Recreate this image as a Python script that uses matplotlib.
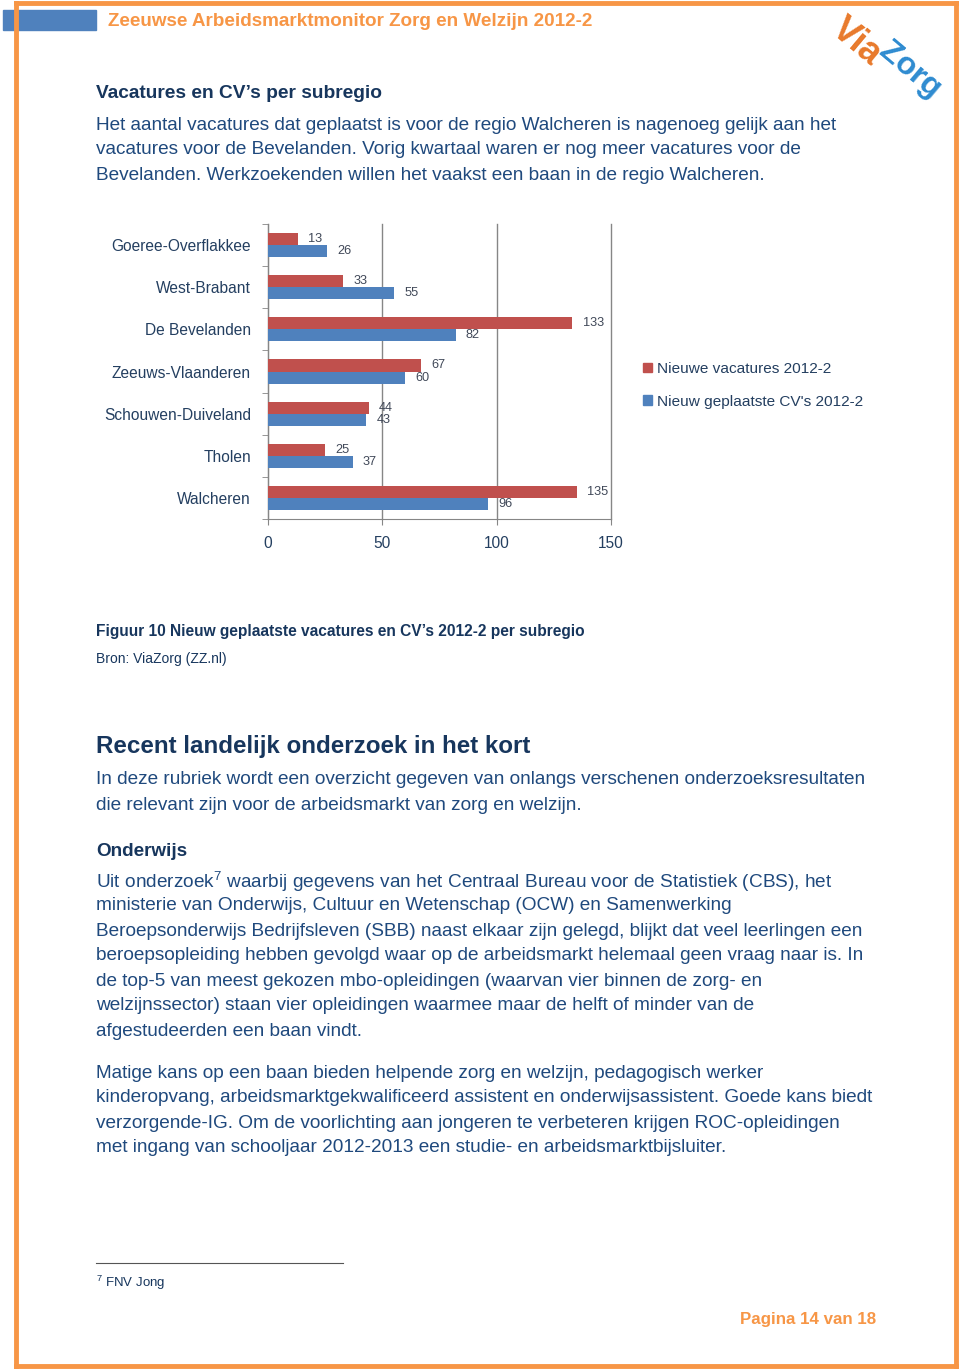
import numpy as np
import matplotlib
matplotlib.use("Agg")
import matplotlib.pyplot as plt
from matplotlib.patches import Rectangle, Patch
from matplotlib.lines import Line2D

plt.rcParams['font.family'] = ['Liberation Sans', 'DejaVu Sans']
plt.rcParams['mathtext.fontset'] = 'custom'
plt.rcParams['mathtext.rm'] = 'Liberation Sans'
plt.rcParams['mathtext.it'] = 'Liberation Sans'

# data
regions = ["Goeree-Overflakkee", "West-Brabant", "De Bevelanden", "Zeeuws-Vlaanderen",
           "Schouwen-Duiveland", "Tholen", "Walcheren"]
vacatures = [13, 33, 133, 67, 44, 25, 135]
cvs = [26, 55, 82, 60, 43, 37, 96]
series_names = ["Nieuwe vacatures 2012-2", "Nieuw geplaatste CV's 2012-2"]
x_ticks = [0, 50, 100, 150]

W, H = 960, 1370
ORANGE = '#F79646'
RED = '#C0504D'
BLUE = '#4F81BD'
HEAD = '#17365D'
BODY = '#1F497D'
GRID = '#868686'
LABEL = '#243F60'

fig = plt.figure(figsize=(W / 100, H / 100), dpi=100)


def fx(x):
    return x / W


def fy(y):
    return 1 - y / H


def txt(x, y, s, size=13.7, color=BODY, weight='normal', ha='left'):
    fig.text(fx(x), fy(y), s, fontsize=size, color=color, weight=weight,
             ha=ha, va='center_baseline')


# page frame and header
fig.patches.append(Rectangle((fx(3), fy(30)), fx(93), 20 / H, transform=fig.transFigure,
                             color=BLUE, zorder=1))
for xs, ys in [((16, 16), (3, 1366)), ((16, 956), (3, 3)), ((956, 956), (3, 1366)),
               ((16, 956), (1366, 1366))]:
    fig.lines.append(Line2D([fx(v) for v in xs], [fy(v) for v in ys], transform=fig.transFigure,
                            color=ORANGE, lw=3.5, zorder=2))
txt(108, 20, "Zeeuwse Arbeidsmarktmonitor Zorg en Welzijn 2012-2", size=13.6, color=ORANGE, weight='bold')

# logo
fig.text(fx(856), fy(42), "Via", fontsize=26, color='#E8792B', weight='bold', rotation=-40,
         ha='center', va='center')
fig.text(fx(910), fy(70), "Zorg", fontsize=23, color='#2E8BD0', weight='bold', rotation=-40,
         ha='center', va='center')

# text above chart
txt(96, 92, "Vacatures en CV’s per subregio", size=13.8, color=HEAD, weight='bold')
intro = ["Het aantal vacatures dat geplaatst is voor de regio Walcheren is nagenoeg gelijk aan het",
         "vacatures voor de Bevelanden. Vorig kwartaal waren er nog meer vacatures voor de",
         "Bevelanden. Werkzoekenden willen het vaakst een baan in de regio Walcheren."]
for i, line in enumerate(intro):
    txt(96, 123 + 25 * i, line)

# chart
ax = fig.add_axes([fx(268), fy(519), fx(611 - 268), (519 - 224) / H])
pos = np.arange(len(regions))
h = 0.285
b1 = ax.barh(pos - h / 2, vacatures, height=h, color=RED, zorder=3)
b2 = ax.barh(pos + h / 2, cvs, height=h, color=BLUE, zorder=3)
for bars in (b1, b2):
    ax.bar_label(bars, padding=7.5, fontsize=9.2, color='#404858')
ax.set_xlim(0, 150)
ax.set_ylim(6.5, -0.5)
ax.set_xticks(x_ticks)
ax.set_yticks(pos)
ax.set_yticklabels(regions)
ax.set_yticks(np.arange(-0.5, 7, 1), minor=True)
ax.tick_params(axis='y', which='major', length=0, pad=17 * 0.72, labelsize=11.2, labelcolor=LABEL)
ax.tick_params(axis='y', which='minor', length=4, color=GRID)
ax.tick_params(axis='x', length=4, color=GRID, pad=8, labelsize=11.2, labelcolor=LABEL)
ax.grid(axis='x', color=GRID, lw=1, zorder=0)
for gl in ax.get_xgridlines():
    gl.set_clip_on(False)
for s in ('top', 'right'):
    ax.spines[s].set_visible(False)
for s in ('left', 'bottom'):
    ax.spines[s].set_color(GRID)

handles = [Patch(color=RED), Patch(color=BLUE)]
fig.legend(handles, series_names, loc='upper left', bbox_to_anchor=(fx(643), fy(362)),
           frameon=False, fontsize=11.1, handlelength=0.6, handleheight=0.6,
           handletextpad=0.3, labelspacing=1.2, borderpad=0, borderaxespad=0,
           labelcolor=LABEL)

# captions
txt(96, 630, "Figuur 10 Nieuw geplaatste vacatures en CV’s 2012-2 per subregio", size=11.2, color=HEAD, weight='bold')
txt(96, 657, "Bron: ViaZorg (ZZ.nl)", size=10, color=HEAD)

txt(96, 744, "Recent landelijk onderzoek in het kort", size=17.4, color=HEAD, weight='bold')
par1 = ["In deze rubriek wordt een overzicht gegeven van onlangs verschenen onderzoeksresultaten",
        "die relevant zijn voor de arbeidsmarkt van zorg en welzijn."]
for i, line in enumerate(par1):
    txt(96, 778 + 25 * i, line)

txt(96, 849, "Onderwijs", size=13.6, color=HEAD, weight='bold')
par2 = ["Uit onderzoek$^7$ waarbij gegevens van het Centraal Bureau voor de Statistiek (CBS), het",
        "ministerie van Onderwijs, Cultuur en Wetenschap (OCW) en Samenwerking",
        "Beroepsonderwijs Bedrijfsleven (SBB) naast elkaar zijn gelegd, blijkt dat veel leerlingen een",
        "beroepsopleiding hebben gevolgd waar op de arbeidsmarkt helemaal geen vraag naar is. In",
        "de top-5 van meest gekozen mbo-opleidingen (waarvan vier binnen de zorg- en",
        "welzijnssector) staan vier opleidingen waarmee maar de helft of minder van de",
        "afgestudeerden een baan vindt."]
for i, line in enumerate(par2):
    txt(96, 879 + 25 * i, line)

par3 = ["Matige kans op een baan bieden helpende zorg en welzijn, pedagogisch werker",
        "kinderopvang, arbeidsmarktgekwalificeerd assistent en onderwijsassistent. Goede kans biedt",
        "verzorgende-IG. Om de voorlichting aan jongeren te verbeteren krijgen ROC-opleidingen",
        "met ingang van schooljaar 2012-2013 een studie- en arbeidsmarktbijsluiter."]
for i, line in enumerate(par3):
    txt(96, 1071 + 25 * i, line)

# footnote and page number
fig.lines.append(Line2D([fx(96), fx(343)], [fy(1263), fy(1263)], transform=fig.transFigure,
                        color='#555555', lw=0.8))
txt(96, 1280, "$^7$ FNV Jong", size=9.5, color=HEAD)
txt(876, 1318, "Pagina 14 van 18", size=12.2, color=ORANGE, weight='bold', ha='right')

fig.savefig("out.png", dpi=100, facecolor='white')
